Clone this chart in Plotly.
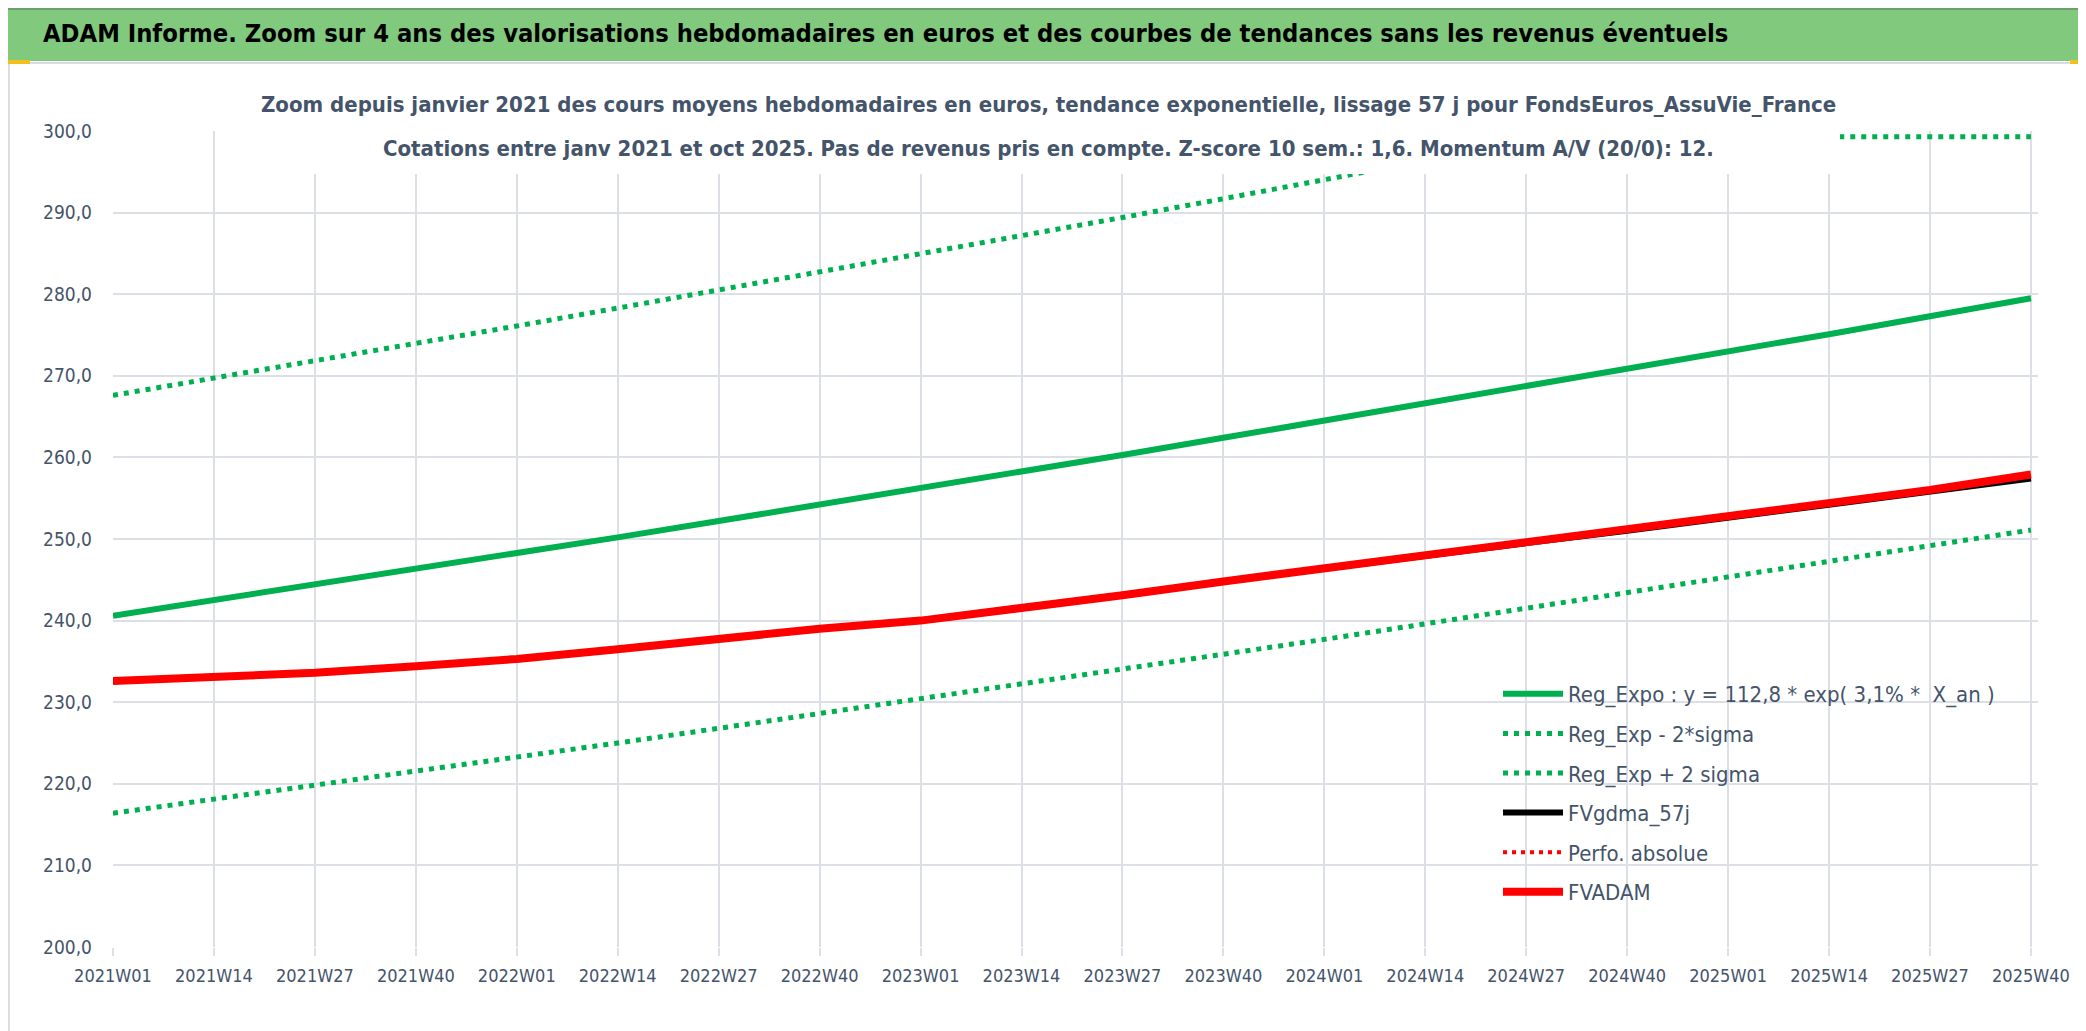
import plotly.graph_objects as go

# --------------------
# Data (one value per tick: every 13 weeks)
# --------------------
WEEKS = ["2021W01", "2021W14", "2021W27", "2021W40",
         "2022W01", "2022W14", "2022W27", "2022W40",
         "2023W01", "2023W14", "2023W27", "2023W40",
         "2024W01", "2024W14", "2024W27", "2024W40",
         "2025W01", "2025W14", "2025W27", "2025W40"]

REG_EXPO = [240.6, 242.5, 244.4, 246.3, 248.3, 250.2, 252.2, 254.2, 256.2, 258.3,
            260.3, 262.4, 264.5, 266.6, 268.7, 270.8, 273.0, 275.1, 277.3, 279.5]
REG_MINUS = [216.4, 218.1, 219.8, 221.5, 223.3, 225.0, 226.8, 228.6, 230.4, 232.2,
             234.0, 235.9, 237.7, 239.6, 241.5, 243.4, 245.3, 247.2, 249.2, 251.1]
REG_PLUS = [267.6, 269.7, 271.8, 273.9, 276.1, 278.3, 280.5, 282.7, 284.9, 287.2,
            289.4, 291.7, 294.0, 296.3, 298.7, 299.3, 299.3, 299.3, 299.3, 299.3]
FVGDMA = [232.6, 233.1, 233.6, 234.4, 235.3, 236.5, 237.8, 239.0, 240.0, 241.5,
          243.1, 244.8, 246.4, 248.0, 249.5, 251.0, 252.6, 254.2, 255.9, 257.4]
PERFO = [None] * 20  # only shown in the legend
FVADAM = [232.6, 233.1, 233.6, 234.4, 235.3, 236.5, 237.8, 239.0, 240.0, 241.5,
          243.1, 244.8, 246.4, 248.0, 249.5, 251.0, 252.6, 254.2, 256.0, 257.9]

TITLE = ("ADAM Informe. Zoom sur 4 ans des valorisations hebdomadaires en euros "
         "et des courbes de tendances sans les revenus éventuels")
SUB1 = ("Zoom depuis janvier 2021 des cours moyens hebdomadaires en euros, tendance "
        "exponentielle, lissage 57 j pour FondsEuros_AssuVie_France")
SUB2 = ("Cotations entre janv 2021 et oct 2025. Pas de revenus pris en compte. "
        "Z-score 10 sem.: 1,6. Momentum A/V (20/0): 12.")

# --------------------
# Settings
# --------------------
W, H = 2086, 1031
L, R, T, B = 105, 56, 123, 92
FONT = "DejaVu Sans Condensed, DejaVu Sans, sans-serif"
TXT = "#44546A"
GRID = "#DCE0E6"
GREEN = "#00B050"


def px_x(px):
    return (px - L) / (W - L - R)


def px_y(py):
    return (H - B - py) / (H - T - B)


fig = go.Figure()

series = [
    ("Reg_Expo : y = 112,8 * exp( 3,1% * \u00a0X_an )", REG_EXPO, dict(color=GREEN, width=6)),
    ("Reg_Exp - 2*sigma", REG_MINUS, dict(color=GREEN, width=5, dash="5px,6px")),
    ("Reg_Exp + 2 sigma", REG_PLUS, dict(color=GREEN, width=5, dash="5px,6px")),
    ("FVgdma_57j", FVGDMA, dict(color="#000000", width=6)),
    ("Perfo. absolue", PERFO, dict(color="#FF0000", width=4, dash="4px,5px")),
    ("FVADAM", FVADAM, dict(color="#FF0000", width=8)),
]
for name, vals, line in series:
    fig.add_trace(go.Scatter(x=WEEKS, y=vals, mode="lines", name=name,
                             line=line, legendgroup=name, connectgaps=False))

shapes = [
    # green header band
    dict(x0=px_x(0), x1=px_x(W), y0=px_y(0), y1=px_y(53), fillcolor="#80C97D",
         line=dict(width=0)),
    dict(x0=px_x(0), x1=px_x(W), y0=px_y(0), y1=px_y(2), fillcolor="#6E9E6E",
         line=dict(width=0)),
    # chart frame
    dict(x0=px_x(1), x1=px_x(2080), y0=px_y(55), y1=px_y(1025), fillcolor="rgba(0,0,0,0)",
         line=dict(color="#D9DCE1", width=2)),
    dict(x0=px_x(0), x1=px_x(W), y0=px_y(1028), y1=px_y(1031), fillcolor="#8C8C8C",
         line=dict(width=0)),
    # white box behind the chart title
    dict(x0=px_x(245), x1=px_x(1832), y0=px_y(60), y1=px_y(166), fillcolor="white",
         line=dict(width=0), layer="above"),
    # selection handles
    dict(x0=px_x(0), x1=px_x(22), y0=px_y(52), y1=px_y(56), fillcolor="#F2C01E",
         line=dict(width=0)),
    dict(x0=px_x(0), x1=px_x(22), y0=px_y(1024), y1=px_y(1028), fillcolor="#F2C01E",
         line=dict(width=0)),
    dict(x0=px_x(2062), x1=px_x(2086), y0=px_y(52), y1=px_y(56), fillcolor="#F2C01E",
         line=dict(width=0)),
    dict(x0=px_x(2080), x1=px_x(2085), y0=px_y(52), y1=px_y(72), fillcolor="#F2C01E",
         line=dict(width=0)),
    dict(x0=px_x(2080), x1=px_x(2085), y0=px_y(990), y1=px_y(1030), fillcolor="#F2C01E",
         line=dict(width=0)),
    dict(x0=px_x(2062), x1=px_x(2086), y0=px_y(1026), y1=px_y(1030), fillcolor="#F2C01E",
         line=dict(width=0)),
    dict(x0=px_x(834), x1=px_x(970), y0=px_y(1026), y1=px_y(1030), fillcolor="#FFF2A8",
         line=dict(width=0)),
]
for s in shapes:
    s.update(type="rect", xref="paper", yref="paper")
    s.setdefault("layer", "below")

fig.update_layout(
    width=W, height=H,
    margin=dict(l=L, r=R, t=T, b=B, pad=0),
    paper_bgcolor="white", plot_bgcolor="white",
    separators=", ",
    font=dict(family=FONT, color=TXT, size=18),
    shapes=shapes,
    showlegend=True,
    legend=dict(x=px_x(1490), y=px_y(665), xanchor="left", yanchor="top",
                bgcolor="rgba(0,0,0,0)", font=dict(family=FONT, size=22, color=TXT),
                itemwidth=60, traceorder="grouped", tracegroupgap=8),
    annotations=[
        dict(text=TITLE, xref="paper", yref="paper", x=px_x(33), y=px_y(26),
             xanchor="left", yanchor="middle", showarrow=False,
             font=dict(family=FONT, size=25.3, color="black", weight="bold")),
        dict(text=SUB1, xref="paper", yref="paper", x=px_x(1040), y=px_y(97),
             xanchor="center", yanchor="middle", showarrow=False,
             font=dict(family=FONT, size=22, color=TXT, weight="bold")),
        dict(text=SUB2, xref="paper", yref="paper", x=px_x(1040), y=px_y(140),
             xanchor="center", yanchor="middle", showarrow=False,
             font=dict(family=FONT, size=22, color=TXT, weight="bold")),
    ],
)

fig.update_xaxes(type="category", range=[0, 19.07], showgrid=True, gridcolor=GRID,
                 gridwidth=2, ticks="outside", ticklen=8, tickwidth=2, tickcolor=GRID,
                 showline=False, zeroline=False, tickfont=dict(size=18, color=TXT),
                 ticklabelstandoff=4, tickangle=0)
fig.update_yaxes(range=[200, 300], dtick=10, tickformat=".1f", showgrid=True,
                 gridcolor=GRID, gridwidth=2, showline=False, zeroline=False,
                 ticks="", tickfont=dict(size=19, color=TXT), ticklabelstandoff=20)

fig.write_html("out.html")
